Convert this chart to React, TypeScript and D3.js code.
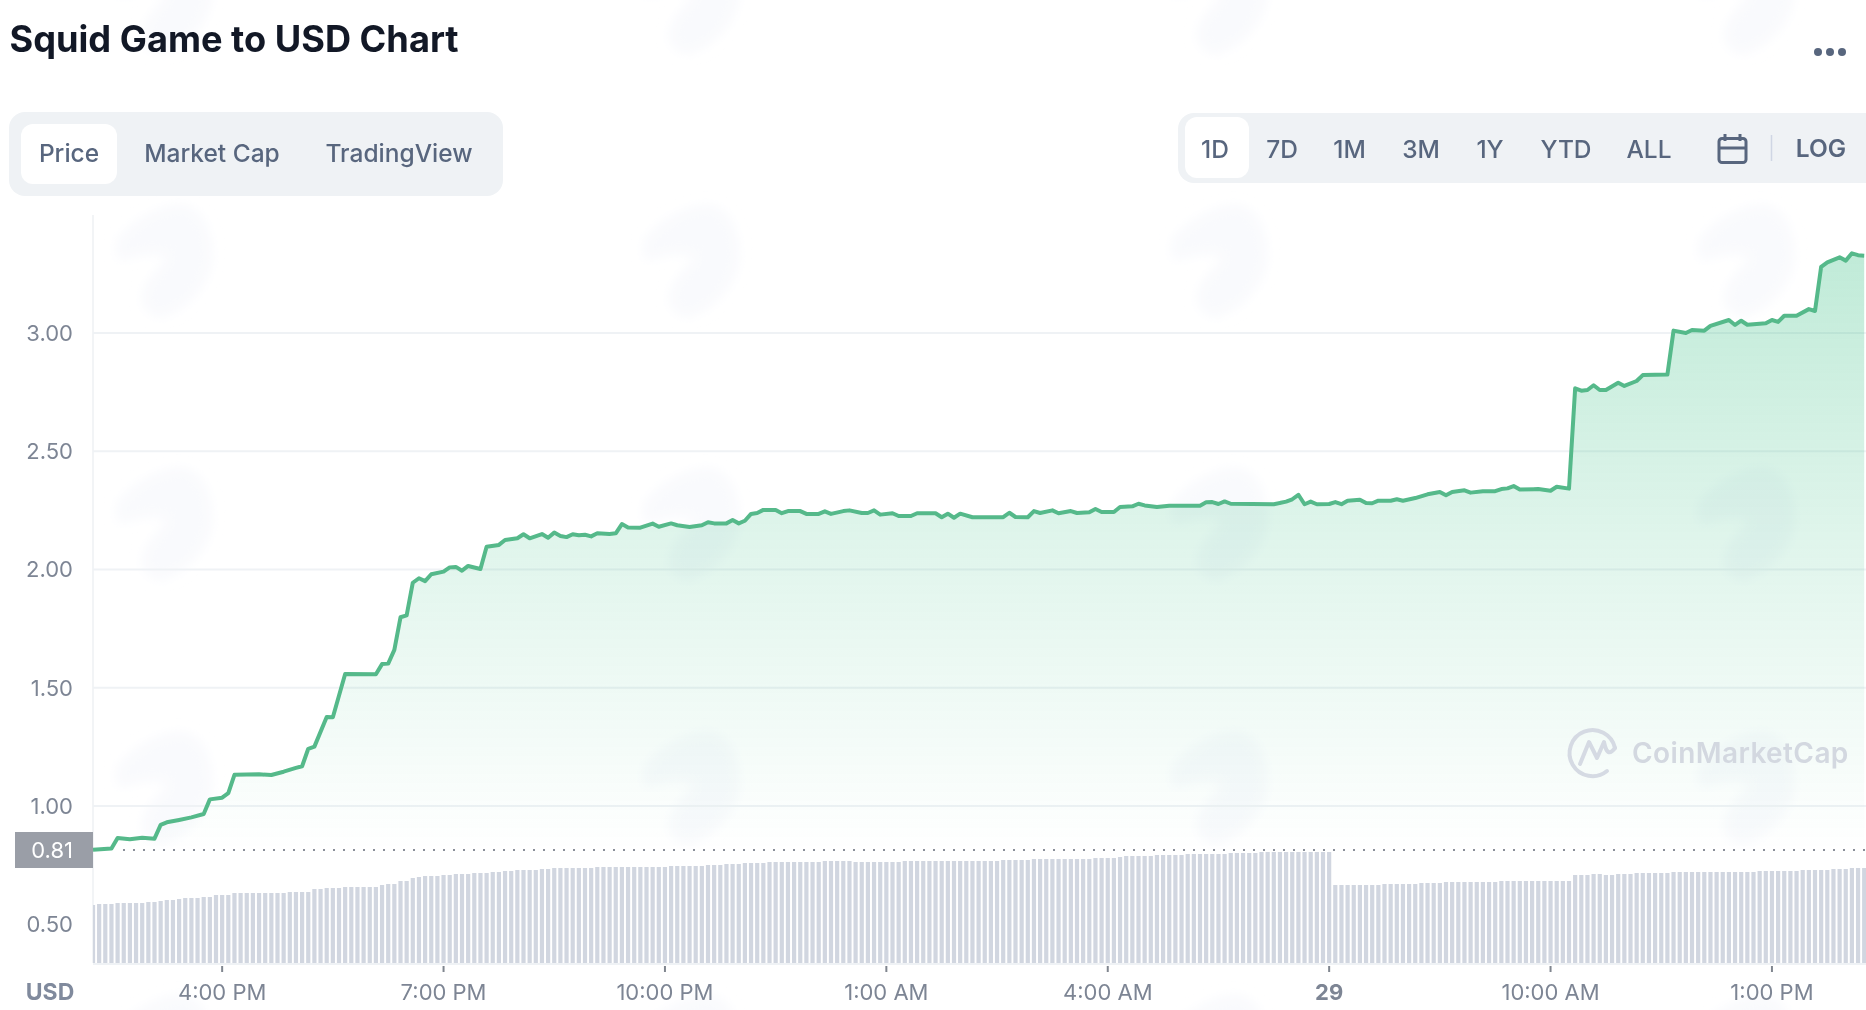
import React from "react";
import * as d3 from "d3";

const title = "Squid Game to USD Chart";
const chartTabs = ["Price", "Market Cap", "TradingView"];
const rangeTabs = ["1D", "7D", "1M", "3M", "1Y", "YTD", "ALL"];
const priceTicks = [3, 2.5, 2, 1.5, 1, 0.5];
const gridTicks = [3, 2.5, 2, 1.5, 1];
const timeTickSlots = [21, 57, 93, 129, 165, 201, 237, 273];
const timeTickLabels = ["4:00 PM", "7:00 PM", "10:00 PM", "1:00 AM", "4:00 AM", "29", "10:00 AM", "1:00 PM"];
const openPrice = 0.81;

// 5-minute slots after 2:15 PM, and the price read at each vertex of the line
const priceSlots = [
  0, 3, 4, 6, 8, 10, 11, 12, 14, 16, 18, 19, 21, 22, 23, 27, 29, 31, 33, 34, 35, 36, 38, 39, 41, 46, 47, 48, 49, 50,
  51, 52, 53, 54, 55, 57, 58, 59, 60, 61, 63, 64, 66, 67, 69, 70, 71, 73, 74, 75, 76, 77, 78, 79, 80, 81, 82, 84, 85, 86,
  87, 89, 91, 92, 94, 95, 97, 99, 100, 101, 103, 104, 105, 106, 107, 108, 109, 111, 112, 113, 115, 116, 118, 119, 120, 122, 123, 125, 126, 127,
  128, 130, 131, 133, 134, 137, 138, 139, 140, 141, 143, 148, 149, 150, 152, 153, 154, 156, 157, 159, 160, 162, 163, 164, 166, 167, 169, 170, 171, 173,
  175, 180, 181, 182, 183, 184, 185, 192, 194, 195, 196, 197, 198, 199, 201, 202, 203, 204, 206, 207, 208, 209, 211, 212, 213, 215, 217, 219, 220, 221,
  223, 224, 226, 228, 229, 230, 231, 232, 235, 237, 238, 240, 241, 242, 243, 244, 245, 246, 248, 249, 251, 252, 256, 257, 259, 260, 262, 263, 266, 267,
  268, 269, 272, 273, 274, 275, 277, 279, 280, 281, 282, 284, 285, 286, 287, 288,
];
const priceValues = [
  0.815, 0.82, 0.865, 0.859, 0.866, 0.862, 0.92, 0.931, 0.941, 0.952, 0.966, 1.028, 1.035, 1.054, 1.132, 1.134, 1.131, 1.145, 1.161, 1.168, 1.242, 1.251, 1.376, 1.375, 1.558, 1.557, 1.6, 1.602, 1.66, 1.798,
  1.806, 1.944, 1.963, 1.951, 1.98, 1.991, 2.009, 2.011, 1.995, 2.015, 2.002, 2.096, 2.104, 2.125, 2.132, 2.149, 2.132, 2.15, 2.134, 2.156, 2.142, 2.137, 2.149, 2.145, 2.147, 2.14, 2.153, 2.15, 2.153, 2.192,
  2.178, 2.177, 2.194, 2.181, 2.195, 2.187, 2.18, 2.187, 2.2, 2.195, 2.195, 2.209, 2.195, 2.206, 2.235, 2.239, 2.252, 2.252, 2.238, 2.247, 2.247, 2.235, 2.235, 2.246, 2.235, 2.247, 2.25, 2.239, 2.239, 2.25,
  2.232, 2.238, 2.226, 2.226, 2.238, 2.238, 2.221, 2.236, 2.219, 2.236, 2.221, 2.221, 2.24, 2.222, 2.221, 2.247, 2.239, 2.25, 2.238, 2.247, 2.239, 2.242, 2.256, 2.243, 2.243, 2.264, 2.267, 2.278, 2.271, 2.264,
  2.27, 2.27, 2.284, 2.285, 2.277, 2.288, 2.278, 2.276, 2.287, 2.297, 2.316, 2.276, 2.287, 2.276, 2.277, 2.285, 2.276, 2.291, 2.295, 2.281, 2.28, 2.291, 2.291, 2.297, 2.291, 2.302, 2.318, 2.328, 2.314, 2.328,
  2.335, 2.325, 2.331, 2.331, 2.34, 2.343, 2.353, 2.338, 2.34, 2.333, 2.35, 2.342, 2.766, 2.756, 2.759, 2.779, 2.759, 2.759, 2.79, 2.776, 2.797, 2.822, 2.824, 3.01, 3.0, 3.013, 3.01, 3.03, 3.055, 3.034,
  3.052, 3.035, 3.041, 3.055, 3.047, 3.073, 3.073, 3.101, 3.093, 3.28, 3.299, 3.32, 3.306, 3.337, 3.329, 3.327,
];

// One bar per 5-minute slot (arbitrary volume units)
const volumeValues = [
  58, 59, 59, 59, 60, 60, 60, 60, 60, 61, 61, 62,
  63, 63, 64, 65, 65, 65, 66, 66, 68, 68, 68, 70,
  70, 70, 70, 70, 70, 70, 70, 70, 71, 71, 71, 71,
  74, 74, 75, 75, 75, 76, 76, 76, 76, 76, 76, 78,
  79, 79, 82, 82, 85, 86, 87, 87, 87, 88, 88, 89,
  89, 89, 90, 90, 90, 91, 91, 92, 92, 93, 93, 93,
  93, 94, 94, 95, 95, 95, 95, 95, 95, 95, 96, 96,
  96, 96, 96, 96, 96, 96, 96, 96, 96, 96, 97, 97,
  97, 97, 97, 97, 98, 98, 98, 99, 99, 99, 100, 100,
  100, 100, 101, 101, 101, 101, 101, 101, 101, 101, 101, 102,
  102, 102, 102, 102, 101, 101, 101, 101, 101, 101, 101, 101,
  102, 102, 102, 102, 102, 102, 102, 102, 102, 102, 102, 102,
  102, 102, 102, 102, 103, 103, 103, 103, 103, 104, 104, 104,
  104, 104, 104, 104, 104, 104, 104, 105, 105, 105, 105, 106,
  107, 107, 107, 107, 107, 108, 108, 108, 108, 108, 109, 109,
  109, 109, 109, 109, 109, 110, 110, 110, 110, 110, 111, 111,
  111, 111, 111, 111, 111, 111, 111, 111, 111, 111, 78, 78,
  78, 78, 78, 78, 78, 78, 79, 79, 79, 79, 79, 79,
  80, 80, 80, 80, 81, 81, 81, 81, 81, 81, 81, 81,
  81, 82, 82, 82, 82, 82, 82, 82, 82, 82, 82, 82,
  82, 88, 88, 88, 89, 89, 88, 88, 89, 89, 89, 90,
  90, 90, 90, 90, 90, 91, 91, 91, 91, 91, 91, 91,
  91, 91, 91, 91, 91, 91, 91, 92, 92, 92, 92, 92,
  92, 92, 93, 93, 93, 93, 93, 94, 94, 94, 95, 95, 95,
];

const W = 1866;
const H = 1010;
const FONT = "Inter, 'Noto Sans', sans-serif";
const GREY = "#58667e";
const PLOT_LEFT = 93;
const BAR_BOTTOM = 963;

const x = d3.scaleLinear().domain([0, 288]).range([PLOT_LEFT, PLOT_LEFT + 288 * 6.15]);
const y = d3.scaleLinear().domain([1, 3]).range([806, 333]);
const yVol = d3.scaleLinear().domain([0, 120]).range([BAR_BOTTOM, BAR_BOTTOM - 120]);

const points: [number, number][] = priceSlots.map((s, i) => [s, priceValues[i]]);
const linePath = d3.line<[number, number]>().x((d) => x(d[0])).y((d) => y(d[1]))(points) as string;
const areaPath = d3
  .area<[number, number]>()
  .x((d) => x(d[0]))
  .y0(y(openPrice))
  .y1((d) => y(d[1]))(points) as string;

const rangeCenters = [1215, 1282, 1349.5, 1421, 1490, 1566, 1649];
const tabCenters = [69, 212, 399];

const blob =
  "M0,34 C18,12 44,0 62,0 C82,0 94,22 94,50 C94,78 70,104 44,112 C30,112 20,100 26,84 C30,72 44,62 50,52 C38,46 18,50 2,56 C-3,48 -3,40 0,34 Z";
const blobXs = [118, 645, 1173, 1700];
const blobYs = [-58, 205, 468, 732, 995];

export default function App() {
  return (
    <svg
      width={W}
      height={H}
      viewBox={`0 0 ${W} ${H}`}
      style={{ position: "absolute", left: 0, top: 0, display: "block", background: "#fff", fontFamily: FONT }}
    >
      <defs>
        <linearGradient id="areaFill" gradientUnits="userSpaceOnUse" x1="0" x2="0" y1={y(3.34)} y2={y(openPrice)}>
          <stop offset="0" stopColor="#16b46e" stopOpacity="0.27" />
          <stop offset="0.5" stopColor="#16b46e" stopOpacity="0.13" />
          <stop offset="1" stopColor="#16b46e" stopOpacity="0" />
        </linearGradient>
        <filter id="soft" x="-20%" y="-20%" width="140%" height="140%">
          <feGaussianBlur stdDeviation="6" />
        </filter>
      </defs>

      <g fill="#f9fafd" filter="url(#soft)">
        {blobYs.map((by) =>
          blobXs.map((bx) => <path key={`${bx}-${by}`} d={blob} transform={`translate(${bx},${by})`} />),
        )}
      </g>

      <text x={9.5} y={52} fontSize={36.2} fontWeight={700} fill="#121826">
        {title}
      </text>
      <g fill={GREY}>
        <circle cx={1818} cy={52} r={4} />
        <circle cx={1830} cy={52} r={4} />
        <circle cx={1842} cy={52} r={4} />
      </g>

      <rect x={9} y={112} width={494} height={84} rx={16} fill="#eff2f5" />
      <rect x={21} y={124} width={96} height={60} rx={12} fill="#fff" />
      {chartTabs.map((t, i) => (
        <text key={t} x={tabCenters[i]} y={162} fontSize={24.5} fontWeight={500} fill={GREY} textAnchor="middle">
          {t}
        </text>
      ))}

      <path d={`M1866,113 H1194 a16,16 0 0 0 -16,16 V167 a16,16 0 0 0 16,16 H1866 Z`} fill="#eff2f5" />
      <rect x={1185} y={117} width={64} height={61} rx={12} fill="#fff" />
      {rangeTabs.map((t, i) => (
        <text key={t} x={rangeCenters[i]} y={158} fontSize={24.5} fontWeight={500} fill={GREY} textAnchor="middle">
          {t}
        </text>
      ))}
      <g fill="none" stroke={GREY} strokeWidth={3}>
        <rect x={1719} y={138.5} width={27} height={24} rx={3} />
        <path d="M1719,148 H1746 M1725,134 V141 M1740,134 V141" />
      </g>
      <line x1={1771.5} x2={1771.5} y1={135} y2={161} stroke="#cfd6e4" strokeWidth={1.5} />
      <text x={1821} y={157} fontSize={24.5} fontWeight={600} fill={GREY} textAnchor="middle">
        LOG
      </text>

      <line x1={PLOT_LEFT} x2={PLOT_LEFT} y1={215} y2={BAR_BOTTOM} stroke="#f2f4f6" strokeWidth={2} />
      {gridTicks.map((t) => (
        <line key={t} x1={PLOT_LEFT} x2={W} y1={y(t)} y2={y(t)} stroke="#eff2f5" strokeWidth={2} />
      ))}
      <path d={areaPath} fill="url(#areaFill)" />

      {volumeValues.map((v, i) => {
        const bx = Math.max(x(i) - 2.1, PLOT_LEFT);
        const bw = x(i) + 2.1 - bx;
        return <rect key={i} x={bx} y={yVol(v)} width={bw} height={BAR_BOTTOM - yVol(v)} fill="#d1d6e0" />;
      })}
      <line x1={PLOT_LEFT} x2={W} y1={964} y2={964} stroke="#eff2f5" strokeWidth={2} />

      <line x1={123} x2={W} y1={y(openPrice) - 1} y2={y(openPrice) - 1} stroke="#8a8f99" strokeWidth={2} strokeDasharray="2 8" />
      <path d={linePath} fill="none" stroke="#55b98a" strokeWidth={4} strokeLinejoin="round" />

      {priceTicks.map((t) => (
        <text key={t} x={73} y={y(t)} dy="0.36em" fontSize={22} fill="#7d8594" textAnchor="end">
          {d3.format(".2f")(t)}
        </text>
      ))}
      <rect x={15} y={832} width={78} height={36} fill="#9a9ea7" />
      <text x={73} y={y(openPrice) - 1} dy="0.36em" fontSize={22} fill="#fff" textAnchor="end">
        {d3.format(".2f")(openPrice)}
      </text>

      {timeTickSlots.map((s, i) => (
        <g key={s}>
          <line x1={x(s)} x2={x(s)} y1={966} y2={972} stroke="#80868f" strokeWidth={2} />
          <text
            x={x(s)}
            y={1000}
            fontSize={22}
            fontWeight={timeTickLabels[i] === "29" ? 700 : 400}
            fill="#7d8594"
            textAnchor="middle"
          >
            {timeTickLabels[i]}
          </text>
        </g>
      ))}
      <text x={50} y={1000} fontSize={23} fontWeight={700} fill="#808a9d" textAnchor="middle">
        USD
      </text>

      <g fill="none" stroke="#d5dae3" strokeWidth={4} strokeLinecap="round" strokeLinejoin="round">
        <path d="M1607,771 A23,23 0 1 1 1615,748" />
        <path d="M1580,764 L1589,742 L1597,758 L1604,742 C1606,752 1609,756 1615,748" />
      </g>
      <text x={1632} y={763} fontSize={28} fontWeight={600} fill="#d3d8e0" letterSpacing={0.4}>
        CoinMarketCap
      </text>
    </svg>
  );
}
